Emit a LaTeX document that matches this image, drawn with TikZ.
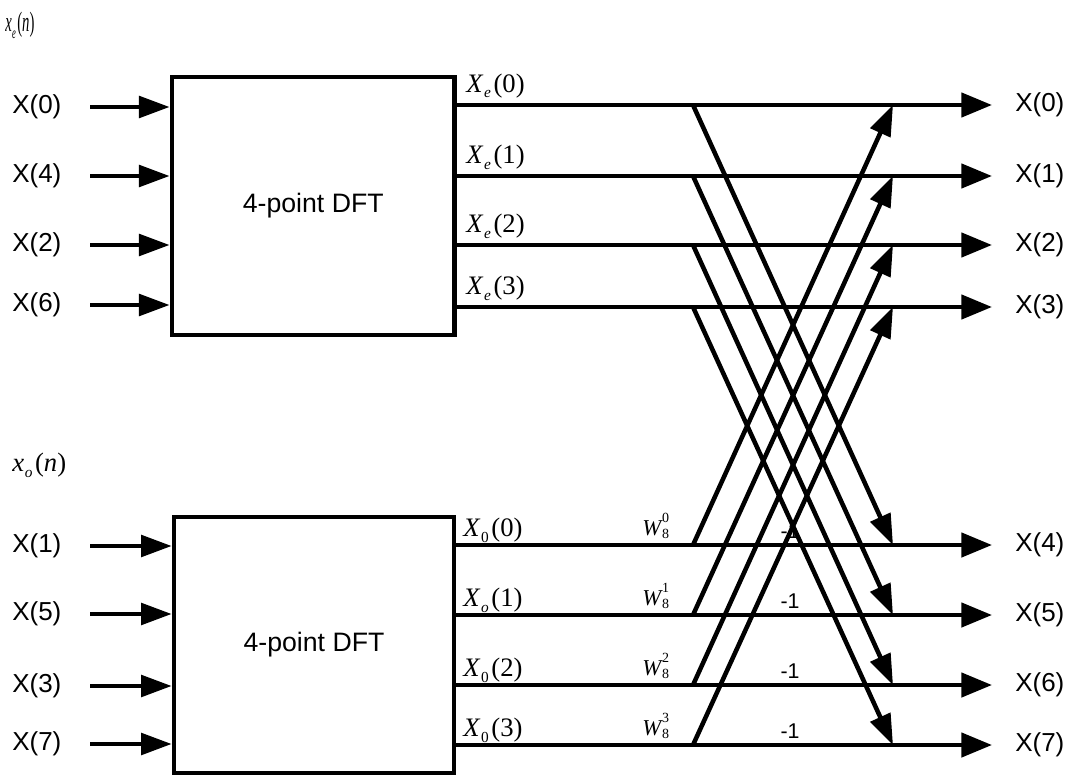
\documentclass[tikz,border=0pt]{standalone}
\usepackage{fontspec}
\usepackage{graphicx}
\setmainfont{Liberation Serif}
\newfontfamily\labelsans{Liberation Sans}
\usetikzlibrary{arrows.meta}

% X_{sub}(k) in the style of the equation editor
\newcommand\Xsub[3]{\textit{#1}\kern0.5pt\raisebox{-4.5pt}{\fontsize{11.5}{11.5}\selectfont #2}\kern2pt(#3)}
% twiddle factor W_8^k
\newcommand\twid[1]{\textit{W}\kern-0.5pt\rlap{\raisebox{9.5pt}{\fontsize{10.5}{10.5}\selectfont #1}}\raisebox{-2.5pt}{\fontsize{10.5}{10.5}\selectfont 8}}

\begin{document}
\begin{tikzpicture}[x=0.75pt,y=-0.75pt,
  wire/.style={line width=3.4pt},
  inarrow/.style={wire,-{Triangle[length=23pt,width=16pt]}},
  outarrow/.style={wire,-{Triangle[length=23pt,width=18pt]}},
  diagarrow/.style={wire,-{Triangle[length=23pt,width=16pt]}},
  dftbox/.style={draw,line width=3.4pt,rectangle,inner sep=0pt,
    font=\labelsans\fontsize{20}{24}\selectfont},
  sanslabel/.style={font=\labelsans\fontsize{19.5}{19.5}\selectfont,inner sep=0pt},
  minuslabel/.style={font=\labelsans\fontsize{16}{16}\selectfont,inner sep=0pt},
  seriflabel/.style={font=\fontsize{20}{20}\selectfont,inner sep=0pt,anchor=base west},
  twidlabel/.style={font=\fontsize{17}{17}\selectfont,inner sep=0pt,anchor=base west},
]
\useasboundingbox (0,0) rectangle (1073,774);
\fill[white] (0,0) rectangle (1073,774);

% sequence names
\node[seriflabel] (xe) at (5,32) {\scalebox{0.55}[1.05]{\fontsize{20}{20}\selectfont\textit{x}\kern0.5pt\raisebox{-4.5pt}{\fontsize{11.5}{11.5}\selectfont\textit{e}}\kern2pt(\textit{n})}};
\node[seriflabel] (xo) at (12,471) {\textit{x}\kern0.5pt\raisebox{-4.5pt}{\fontsize{11.5}{11.5}\selectfont\textit{o}}\kern2pt(\textit{n})};

% the two 4-point DFT blocks
\node[dftbox,minimum width=212pt,minimum height=193.5pt] (topbox) at (313.25,206) {4-point DFT};
\node[dftbox,minimum width=210pt,minimum height=192pt] (botbox) at (314,645) {4-point DFT};

% inputs of the even block
\foreach \k/\yi/\inl in {0/107/0,1/176/4,2/245/2,3/305/6} {
  \node[sanslabel,anchor=west] (inT\k) at (12,\yi) {X(\inl)};
  \coordinate (sT\k) at (90,\yi);
  \draw[inarrow] (sT\k) -- (sT\k -| topbox.west);
}
% inputs of the odd block
\foreach \k/\yi/\inl in {0/546/1,1/614/5,2/686/3,3/744/7} {
  \node[sanslabel,anchor=west] (inB\k) at (12,\yi) {X(\inl)};
  \coordinate (sB\k) at (90,\yi);
  \draw[inarrow] (sB\k) -- (sB\k -| botbox.west);
}

% -1 multipliers (set before the wires)
\foreach \k/\y in {0/545,1/615,2/685,3/745} {
  \node[minuslabel] (m\k) at (790,\y-14) {-1};
}

% even outputs X_e(k) -> X(k)
\foreach \k/\y in {0/105,1/176,2/245,3/307} {
  \coordinate (dT\k) at (693,\y);
  \coordinate (eT\k) at (893,\y);
  \coordinate (oT\k) at (992,\y);
  \draw[outarrow] (oT\k -| topbox.east) -- (oT\k);
  \node[sanslabel,anchor=west] (outT\k) at (1015,\y) {X(\k)};
  \node[seriflabel] (Xe\k) at (466,\y-13) {\Xsub{X}{\textit{e}}{\k}};
}

% odd outputs X_o(k) -> X(k+4)
\foreach \k/\y/\outl/\sub in {0/545/4/0,1/615/5/\textit{o},2/685/6/0,3/745/7/0} {
  \coordinate (dB\k) at (693,\y);
  \coordinate (eB\k) at (893,\y);
  \coordinate (oB\k) at (992,\y);
  \draw[outarrow] (oB\k -| botbox.east) -- (oB\k);
  \node[sanslabel,anchor=west] (outB\k) at (1015,\y) {X(\outl)};
  \node[seriflabel] (Xo\k) at (463,\y-9) {\Xsub{X}{\sub}{\k}};
  \node[twidlabel] (W\k) at (642,\y-10) {\twid{\k}};
}

% butterfly crossings
\foreach \k in {0,...,3} {
  \draw[diagarrow] (dT\k) -- (eB\k);
  \draw[diagarrow] (dB\k) -- (eT\k);
}
\end{tikzpicture}
\end{document}
